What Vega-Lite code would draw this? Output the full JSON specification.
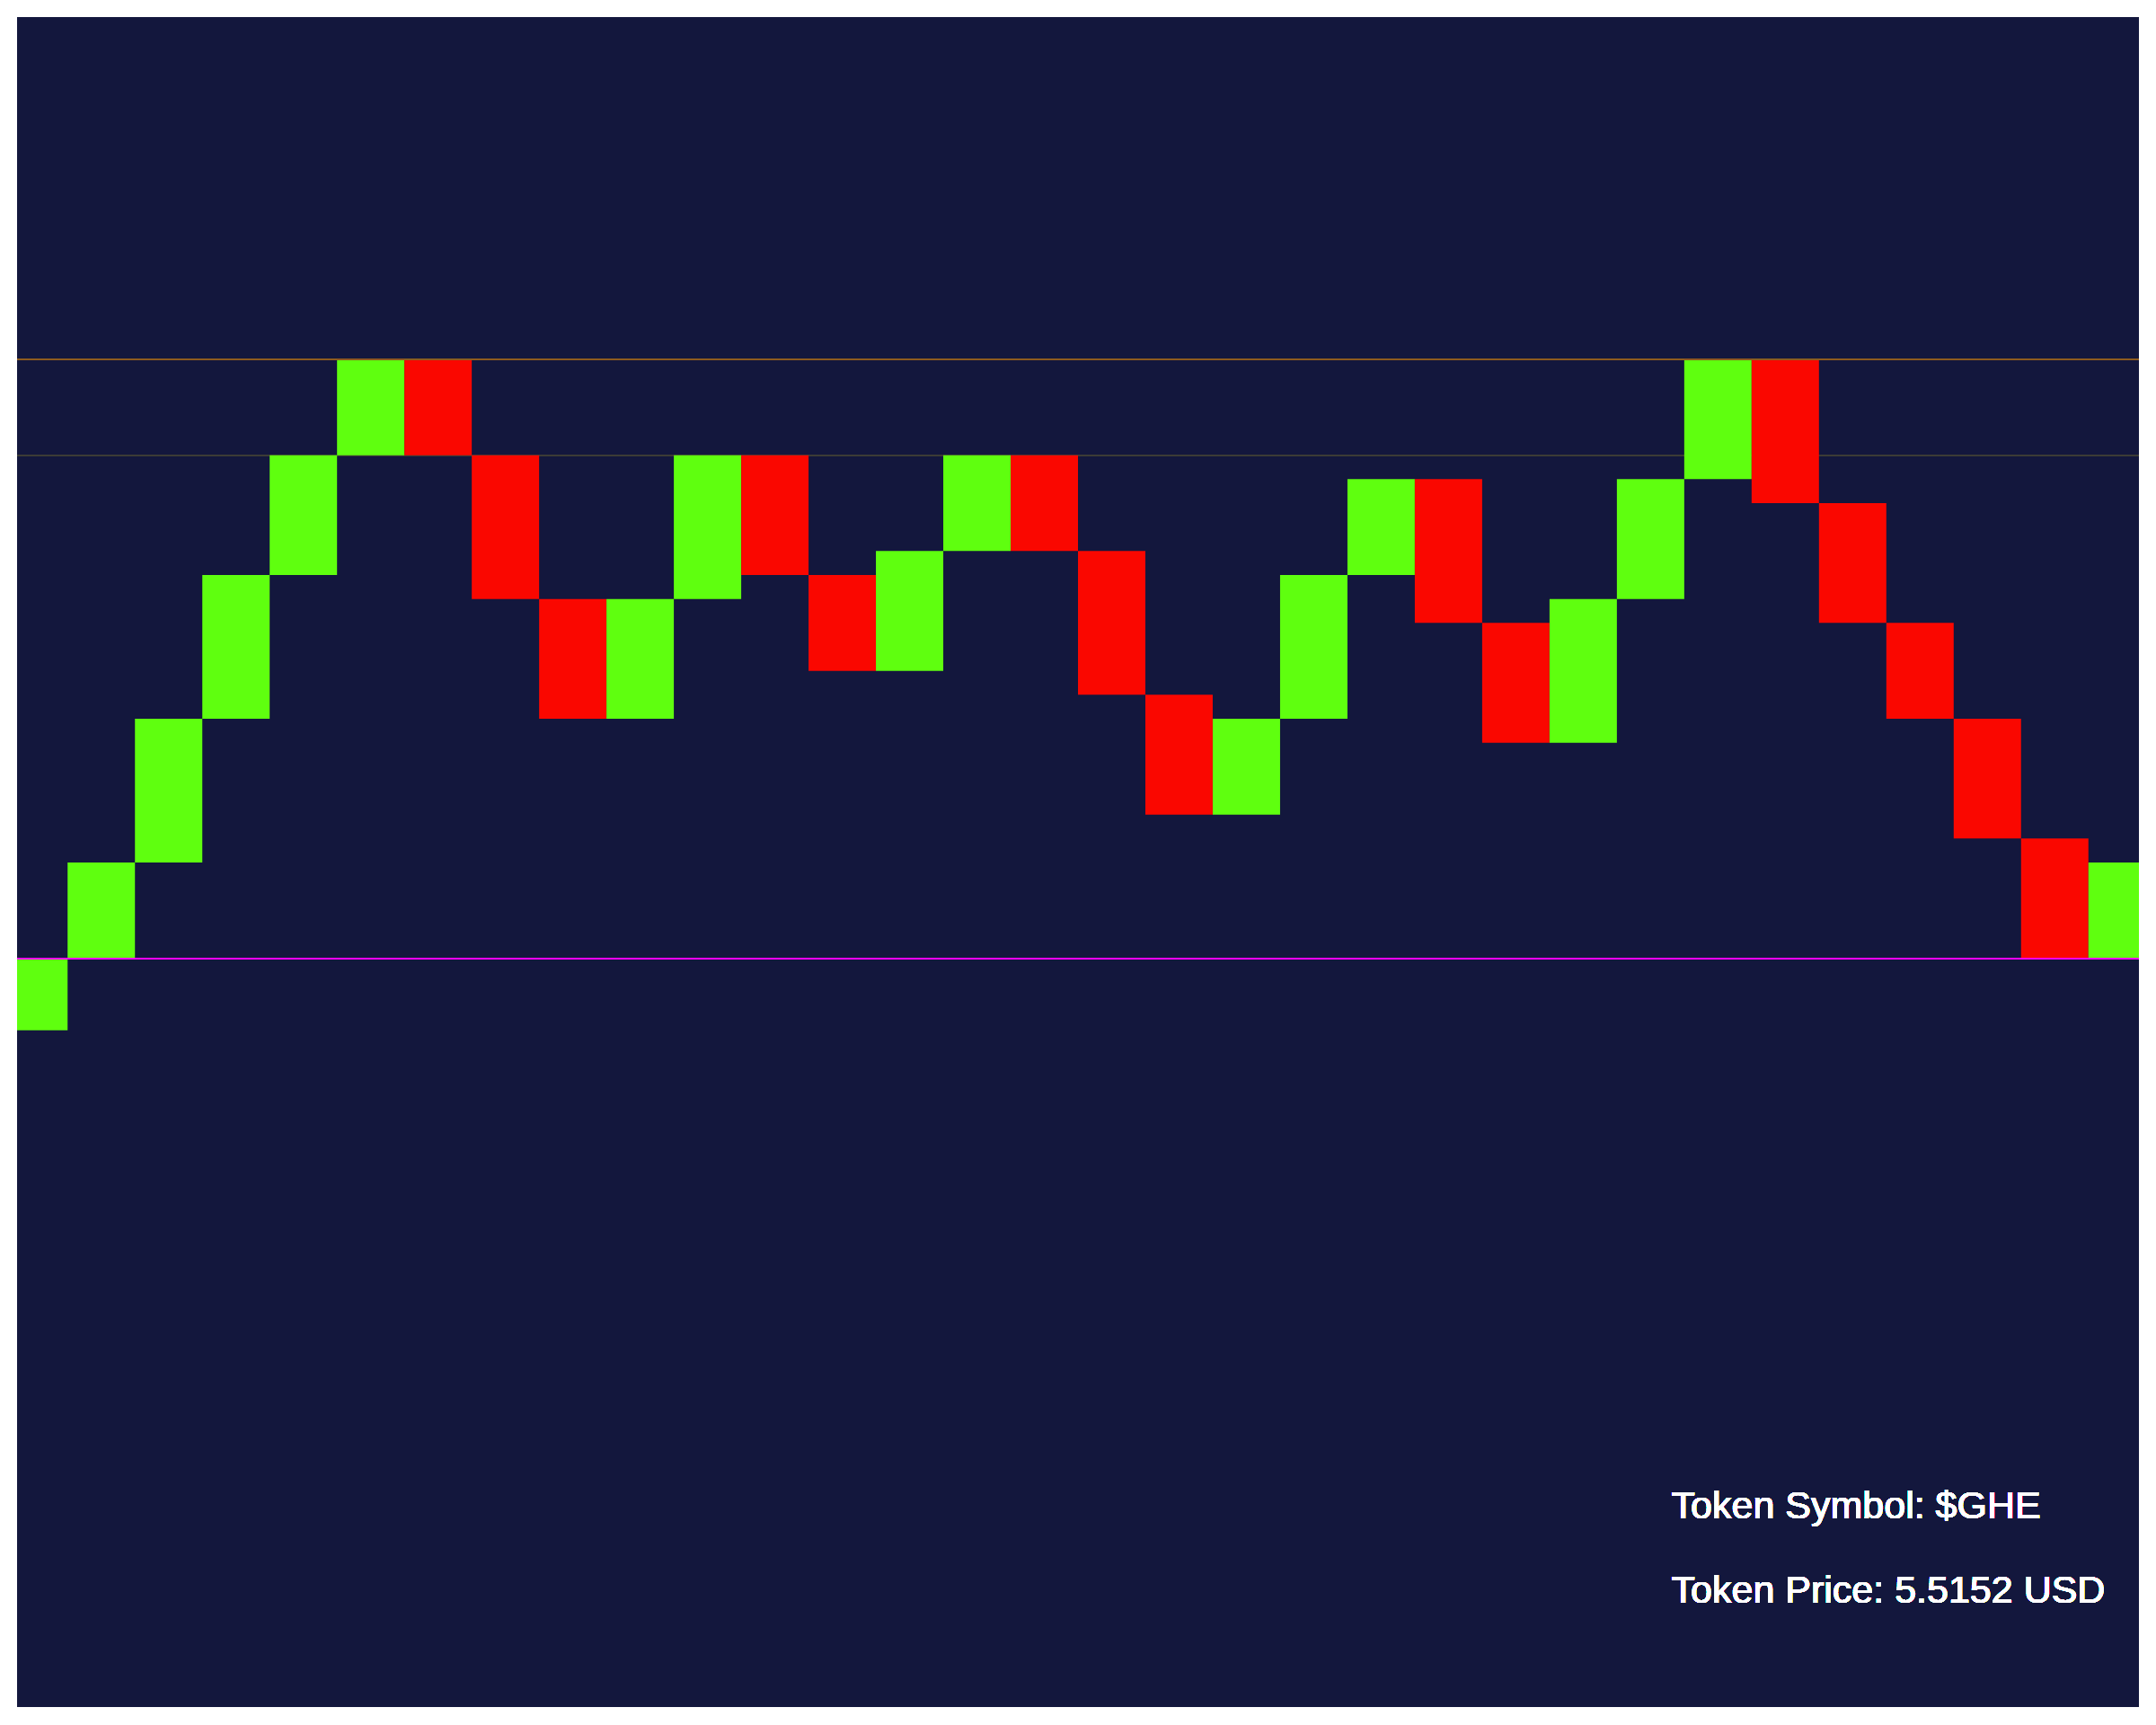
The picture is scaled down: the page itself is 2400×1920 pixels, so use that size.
{
  "$schema": "https://vega.github.io/schema/vega-lite/v6.json",
  "width": 2362,
  "height": 1881,
  "padding": {"left": 19, "top": 19, "right": 19, "bottom": 20},
  "autosize": {"type": "none"},
  "background": "#ffffff",
  "view": {"fill": "#13173d", "stroke": null},
  "config": {"font": "Liberation Sans"},
  "data": {
    "values": [
      {"i": 0, "open": 5.44, "close": 5.50, "dir": "up"},
      {"i": 1, "open": 5.50, "close": 5.58, "dir": "up"},
      {"i": 2, "open": 5.58, "close": 5.70, "dir": "up"},
      {"i": 3, "open": 5.70, "close": 5.82, "dir": "up"},
      {"i": 4, "open": 5.82, "close": 5.92, "dir": "up"},
      {"i": 5, "open": 5.92, "close": 6.00, "dir": "up"},
      {"i": 6, "open": 6.00, "close": 5.92, "dir": "down"},
      {"i": 7, "open": 5.92, "close": 5.80, "dir": "down"},
      {"i": 8, "open": 5.80, "close": 5.70, "dir": "down"},
      {"i": 9, "open": 5.70, "close": 5.80, "dir": "up"},
      {"i": 10, "open": 5.80, "close": 5.92, "dir": "up"},
      {"i": 11, "open": 5.92, "close": 5.82, "dir": "down"},
      {"i": 12, "open": 5.82, "close": 5.74, "dir": "down"},
      {"i": 13, "open": 5.74, "close": 5.84, "dir": "up"},
      {"i": 14, "open": 5.84, "close": 5.92, "dir": "up"},
      {"i": 15, "open": 5.92, "close": 5.84, "dir": "down"},
      {"i": 16, "open": 5.84, "close": 5.72, "dir": "down"},
      {"i": 17, "open": 5.72, "close": 5.62, "dir": "down"},
      {"i": 18, "open": 5.62, "close": 5.70, "dir": "up"},
      {"i": 19, "open": 5.70, "close": 5.82, "dir": "up"},
      {"i": 20, "open": 5.82, "close": 5.90, "dir": "up"},
      {"i": 21, "open": 5.90, "close": 5.78, "dir": "down"},
      {"i": 22, "open": 5.78, "close": 5.68, "dir": "down"},
      {"i": 23, "open": 5.68, "close": 5.80, "dir": "up"},
      {"i": 24, "open": 5.80, "close": 5.90, "dir": "up"},
      {"i": 25, "open": 5.90, "close": 6.00, "dir": "up"},
      {"i": 26, "open": 6.00, "close": 5.88, "dir": "down"},
      {"i": 27, "open": 5.88, "close": 5.78, "dir": "down"},
      {"i": 28, "open": 5.78, "close": 5.70, "dir": "down"},
      {"i": 29, "open": 5.70, "close": 5.60, "dir": "down"},
      {"i": 30, "open": 5.60, "close": 5.50, "dir": "down"},
      {"i": 31, "open": 5.50, "close": 5.58, "dir": "up"}
    ]
  },
  "encoding": {
    "x": {"type": "quantitative", "scale": {"domain": [0.25, 31.75], "nice": false, "zero": false}, "axis": null},
    "y": {"type": "quantitative", "scale": {"domain": [4.875, 6.28575], "nice": false, "zero": false}, "axis": null}
  },
  "layer": [
    {
      "mark": {"type": "rule", "color": "#3d3c36", "strokeWidth": 1.5},
      "encoding": {"y": {"datum": 5.92, "type": "quantitative"}}
    },
    {
      "transform": [{"calculate": "datum.i + 1", "as": "i_end"}],
      "mark": {"type": "rect", "clip": true},
      "encoding": {
        "x": {"field": "i", "type": "quantitative"},
        "x2": {"field": "i_end"},
        "y": {"field": "open", "type": "quantitative"},
        "y2": {"field": "close"},
        "color": {"field": "dir", "type": "nominal", "scale": {"domain": ["up", "down"], "range": ["#5fff0f", "#fa0700"]}, "legend": null}
      }
    },
    {
      "mark": {"type": "rule", "color": "#8d5b1f", "strokeWidth": 2},
      "encoding": {"y": {"datum": 6.0, "type": "quantitative"}}
    },
    {
      "mark": {"type": "rule", "color": "#ff00ff", "strokeWidth": 1.5},
      "encoding": {"y": {"datum": 5.5, "type": "quantitative"}}
    },
    {
      "mark": {"type": "text", "text": "Token Symbol: $GHE", "align": "left", "baseline": "alphabetic", "fontSize": 43, "color": "#ffffff"},
      "encoding": {"x": {"datum": 24.81, "type": "quantitative"}, "y": {"datum": 5.0325, "type": "quantitative"}}
    },
    {
      "mark": {"type": "text", "text": "Token Price: 5.5152 USD", "align": "left", "baseline": "alphabetic", "fontSize": 43, "color": "#ffffff"},
      "encoding": {"x": {"datum": 24.81, "type": "quantitative"}, "y": {"datum": 4.962, "type": "quantitative"}}
    }
  ]
}
